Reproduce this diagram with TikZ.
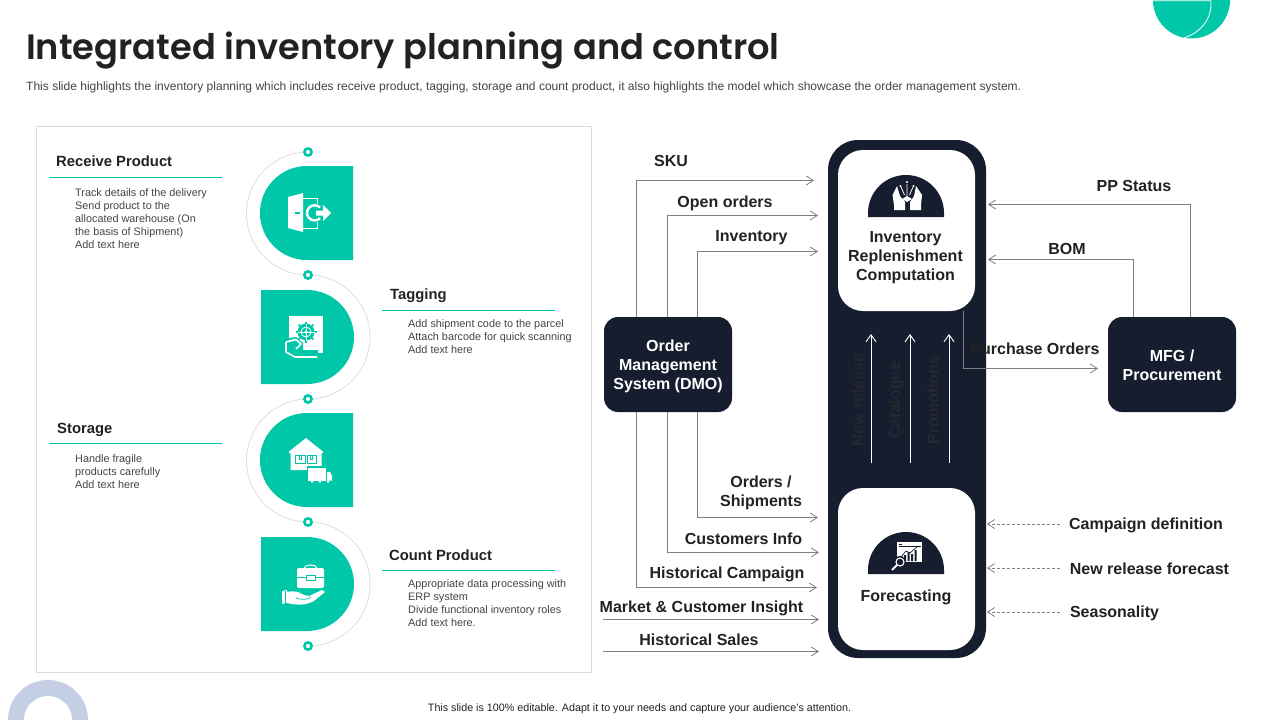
\documentclass[tikz,border=0pt]{standalone}
\usepackage{fontspec}
\setmainfont{Liberation Sans}
\newfontfamily\titlefont{Poppins SemiBold}
\usetikzlibrary{arrows.meta}
\definecolor{teal1}{HTML}{00C7A8}
\definecolor{navy}{HTML}{161D2F}
\definecolor{conn}{HTML}{808080}
\definecolor{lbl}{HTML}{222222}
\definecolor{body}{HTML}{444444}
\definecolor{ringblue}{HTML}{C4CFE3}
\definecolor{faint}{HTML}{262830}
\tikzset{
  lab/.style={font=\fontsize{16}{19}\selectfont\bfseries,text=lbl,align=center,inner sep=0pt},
  boxtext/.style={font=\fontsize{16}{19}\selectfont\bfseries,text=lbl,align=center,inner sep=0pt},
  dark/.style={fill=navy,rounded corners=14pt,inner sep=0pt,minimum width=128pt,minimum height=95pt},
  darktext/.style={text=white,font=\fontsize{16}{19}\selectfont\bfseries,align=center,inner sep=0pt},
  head/.style={font=\fontsize{14.8}{17}\selectfont\bfseries,text=lbl,anchor=west,inner sep=0pt},
  bodytext/.style={font=\fontsize{10.85}{13}\selectfont,text=body,align=left,anchor=north west,inner sep=0pt},
  rot/.style={font=\fontsize{16}{19}\selectfont\bfseries,text=faint,rotate=90,inner sep=0pt},
  arr/.style={draw=conn,line width=0.8pt,-{Straight Barb[length=7pt,width=9pt,line width=0.8pt]}},
  dasharr/.style={arr,densely dashed},
  uparr/.style={draw=white,line width=0.9pt,-{Straight Barb[length=7pt,width=10pt,line width=0.9pt]}},
  guide/.style={draw=black!13,line width=0.8pt},
  ring/.style={draw=teal1,fill=white,line width=2.6pt},
  rule/.style={draw=teal1,line width=1pt},
  rulethick/.style={draw=teal1,line width=1.8pt},
}
\begin{document}
\begin{tikzpicture}[x=1pt,y=-1pt]
\clip (0,0) rectangle (1280,720);
\fill[white] (0,0) rectangle (1280,720);
% decorations
\fill[teal1] (1191.5,0) circle[radius=38.5pt];
\draw[white,line width=0.8pt] (1153,0.8) -- (1211,0.8) .. controls (1212,18) and (1202,32) .. (1184,38);
\fill[ringblue] (48,720) circle[radius=40pt];
\fill[white] (48,720) circle[radius=24pt];
% title
\node[anchor=west,inner sep=0pt,font=\titlefont\fontsize{35.23}{40}\selectfont,text=lbl] (title) at (26,50.5) {Integrated inventory planning and control};
\node[anchor=west,inner sep=0pt,font=\fontsize{12.03}{14}\selectfont,text=body] (subtitle) at (26,87) {This slide highlights the inventory planning which includes receive product, tagging, storage and count product, it also highlights the model which showcase the order management system.};
\node[inner sep=0pt,font=\fontsize{10.73}{13}\selectfont,text=lbl] (footer) at (639.5,709) {This slide is 100\% editable. Adapt it to your needs and capture your audience's attention.};
% left panel
\draw[draw=black!14,line width=0.8pt] (36.5,126.5) rectangle (591.5,672.5);
% guide arcs
\draw[guide] (308,152) arc[start angle=90,end angle=270,radius=61.5pt];
\draw[guide] (308,275) arc[start angle=90,end angle=-90,radius=62pt];
\draw[guide] (308,399) arc[start angle=90,end angle=270,radius=61.5pt];
\draw[guide] (308,522) arc[start angle=90,end angle=-90,radius=62pt];
% D shapes
\fill[teal1] (353,166) [rounded corners=47pt] -- (260,166) -- (260,260) [sharp corners] -- (353,260) -- cycle;
\fill[teal1] (261,290) [rounded corners=47pt] -- (354,290) -- (354,384) [sharp corners] -- (261,384) -- cycle;
\fill[teal1] (353,413) [rounded corners=47pt] -- (260,413) -- (260,507) [sharp corners] -- (353,507) -- cycle;
\fill[teal1] (261,537) [rounded corners=47pt] -- (354,537) -- (354,631) [sharp corners] -- (261,631) -- cycle;
% rings
\foreach \y in {152,275,399,522,646} \draw[ring] (308,\y) circle[radius=3.6pt];
% icon 1: door and gear arrow
\fill[white] (288,197) -- (303,193) -- (303,232) -- (288,228) -- cycle;
\fill[teal1] (294.5,212) rectangle (300,214);
\draw[white,line width=0.9pt] (303,198) -- (317,198) -- (317,205);
\draw[white,line width=0.9pt] (303,228) -- (317,228) -- (317,221);
\fill[teal1] (314,213) circle[radius=10pt];
\draw[white,line width=2.4pt] (320,207.5) arc[start angle=45,end angle=315,radius=7.6pt];
\fill[white] (316,210.5) -- (323,210.5) -- (323,205) -- (331,213) -- (323,221) -- (323,215.5) -- (316,215.5) -- cycle;
% icon 2: parcel, gear, hand
\fill[white] (289,316) rectangle (323,353);
\fill[teal1] (306,332) circle[radius=8.5pt];
\foreach \a in {0,45,...,315} \draw[teal1,line width=1.6pt] (306,332) -- ++(\a:10.5pt);
\draw[white,line width=0.8pt] (306,332) circle[radius=5pt];
\fill[white] (306,332) circle[radius=1.6pt];
\draw[white,line width=0.8pt] (306,323.5) -- (306,340.5) (297.5,332) -- (314.5,332);
\fill[teal1] (283,339) -- (296,337) -- (303,343) -- (303,350) -- (318,350) -- (318,360) -- (283,360) -- cycle;
\draw[white,line width=1.6pt,line join=round] (286,342) -- (296,339.5) -- (301,344) -- (296,349) (286,342) -- (286,352) -- (295,357) -- (317,357);
% icon 3: warehouse and truck
\fill[white] (306,438) -- (323.5,452) -- (321.5,453.5) -- (321.5,470) -- (290.5,470) -- (290.5,453.5) -- (288.5,452) -- cycle;
\draw[teal1,line width=0.8pt] (295,455) rectangle (305,463) (307,455) rectangle (316,463) (299,455) -- (299,459) -- (301,459) -- (301,455) (310.5,455) -- (310.5,459) -- (312.5,459) -- (312.5,455);
\fill[teal1] (306.5,466) rectangle (333,483);
\fill[white] (308,468) rectangle (326,480.5);
\fill[white] (327,472) -- (330,472) -- (332,476) -- (332,480.5) -- (327,480.5) -- cycle;
\fill[white] (312,481.5) circle[radius=1.4pt] (328,481.5) circle[radius=1.4pt] (320,481.5) circle[radius=1.4pt];
% icon 4: briefcase and hand
\draw[white,line width=1.1pt] (304,568) .. controls (305,564) and (316,564) .. (317,568);
\fill[white,rounded corners=2pt] (297,568) rectangle (324,588);
\draw[teal1,line width=0.8pt] (297,577) -- (306,577) (315,577) -- (324,577);
\draw[teal1,line width=0.8pt] (306,575) rectangle (315,580);
\fill[white] (282,591) -- (287,590) -- (287,592) .. controls (297,590) and (300,593) .. (304,595) -- (309,596) -- (322,590) -- (325,592) -- (314,601) .. controls (304,606) and (297,605) .. (287,603) -- (282,604) -- cycle;
\draw[teal1,line width=0.7pt] (285.5,591) -- (285.5,604);
\draw[teal1,line width=0.7pt] (296,598) .. controls (302,600) and (306,600) .. (311,597);
% section headings
\node[head] (h1) at (56,161.5) {Receive Product};
\node[head] (h2) at (390,296) {Tagging};
\node[head] (h3) at (57,430) {Storage};
\node[head] (h4) at (389,555) {Count Product};
\draw[rule] (49,177.5) -- (222,177.5); \draw[rulethick] (49,177.5) -- (110,177.5);
\draw[rule] (382,310.5) -- (555,310.5); \draw[rulethick] (382,310.5) -- (443,310.5);
\draw[rule] (49,443.5) -- (222,443.5); \draw[rulethick] (49,443.5) -- (110,443.5);
\draw[rule] (382,570.5) -- (555,570.5); \draw[rulethick] (382,570.5) -- (443,570.5);
\node[bodytext] (b1) at (75,188.7) {Track details of the delivery\\Send product to the\\allocated warehouse (On\\the basis of Shipment)\\Add text here};
\node[bodytext] (b2) at (408,319.7) {Add shipment  code to the parcel\\Attach barcode for quick scanning\\Add text here};
\node[bodytext] (b3) at (75,454.7) {Handle  fragile\\products carefully\\Add text here};
\node[bodytext] (b4) at (408,579.7) {Appropriate data processing with\\ERP  system\\Divide  functional inventory roles\\Add text here.};
% central column
\fill[navy,rounded corners=30pt] (828,140) rectangle (986,658);
\node[fill=white,rounded corners=25pt,minimum width=137pt,minimum height=161pt,inner sep=0pt] (inv) at (906.5,230.5) {};
\node[fill=white,rounded corners=25pt,minimum width=137pt,minimum height=162pt,inner sep=0pt] (fore) at (906.5,569) {};
\node[boxtext] (invt) at (905.5,258) {Inventory\\Replenishment\\Computation};
\node[boxtext] (foret) at (906,597.5) {Forecasting};
% domes
\fill[navy] (868,217) -- (868,213) arc[start angle=180,end angle=0,radius=38pt] -- (944,217) -- cycle;
\fill[navy] (868,574) -- (868,570) arc[start angle=180,end angle=0,radius=38pt] -- (944,574) -- cycle;
% dome icon: hands
\fill[white] (897,186) -- (900,196) -- (905,202) -- (905,210) -- (894,210) -- (894,205) -- (892.5,195) -- cycle;
\fill[white] (916,186) -- (914,196) -- (910,202) -- (910,210) -- (921,210) -- (921,205) -- (922,195) -- cycle;
\fill[white] (907,196) -- (912,199) -- (907,202) -- (902,199) -- cycle;
\draw[white,line width=0.8pt] (907,196) -- (907,184) (904.5,195) -- (901,187) (909.5,195) -- (913,187);
\fill[white] (907,182) circle[radius=1.2pt] (900.5,186) circle[radius=1.2pt] (913.5,186) circle[radius=1.2pt];
% dome icon: chart
\fill[white] (897,542) rectangle (922,562);
\draw[navy,line width=0.6pt] (898.5,546) -- (920.5,546) (899,544.2) -- (902,544.2);
\fill[navy] (904,555) rectangle (906,561) (907.5,552) rectangle (909.5,561) (911,554) rectangle (913,561) (914.5,550) rectangle (916.5,561);
\draw[navy,line width=0.7pt] (901,557) -- (906,551) -- (910,553) -- (918,546);
\fill[navy] (900,562) circle[radius=6pt];
\draw[white,line width=1.1pt] (900,562) circle[radius=4pt];
\draw[white,line width=1.8pt] (897,565) -- (892,570);
% up arrows
\coordinate (u1s) at (871,463); \coordinate (u1e) at (871,334);
\coordinate (u2s) at (910,463); \coordinate (u2e) at (910,334);
\coordinate (u3s) at (949,463); \coordinate (u3e) at (949,334);
\draw[uparr] (u1s) -- (u1e);
\draw[uparr] (u2s) -- (u2e);
\draw[uparr] (u3s) -- (u3e);
\node[rot] (r1) at (858,400) {New release};
\node[rot] (r2) at (896,400) {Catalogue};
\node[rot] (r3) at (933,400) {Promotions};
% side boxes
\node[dark] (oms) at (668,364.5) {};
\node[dark] (mfg) at (1172,364.5) {};
\node[darktext] (omst) at (668,366.5) {Order\\Management\\System (DMO)};
\node[darktext] (mfgt) at (1172,365) {MFG /\\Procurement};
% connector ends
\coordinate (a1) at (636.5,317); \coordinate (e1) at (814,180.5);
\coordinate (a2) at (667.5,317); \coordinate (e2) at (818,215.5);
\coordinate (a3) at (697.5,317); \coordinate (e3) at (818,251.5);
\coordinate (a4) at (697.5,412); \coordinate (e4) at (818,517.5);
\coordinate (a5) at (667.5,412); \coordinate (e5) at (819,552.5);
\coordinate (a6) at (636.5,412); \coordinate (e6) at (817,587.5);
\coordinate (s7) at (603,619.5); \coordinate (e7) at (819,619.5);
\coordinate (s8) at (603,651.5); \coordinate (e8) at (819,651.5);
\coordinate (m1) at (1190.5,317); \coordinate (p1) at (988,204.5);
\coordinate (m2) at (1133.5,317); \coordinate (p2) at (988,259.5);
\coordinate (i1) at (963.5,311); \coordinate (p3) at (1098,368.5);
\coordinate (d1) at (1060,524); \coordinate (q1) at (987,524);
\coordinate (d2) at (1060,568); \coordinate (q2) at (987,568);
\coordinate (d3) at (1060,612); \coordinate (q3) at (987,612);
\draw[arr] (a1) |- (e1);
\draw[arr] (a2) |- (e2);
\draw[arr] (a3) |- (e3);
\draw[arr] (a4) |- (e4);
\draw[arr] (a5) |- (e5);
\draw[arr] (a6) |- (e6);
\draw[arr] (s7) -- (e7);
\draw[arr] (s8) -- (e8);
\draw[arr] (m1) |- (p1);
\draw[arr] (m2) |- (p2);
\draw[arr] (i1) |- (p3);
\draw[dasharr] (d1) -- (q1);
\draw[dasharr] (d2) -- (q2);
\draw[dasharr] (d3) -- (q3);
% labels
\node[lab] (l1) at (671,161) {SKU};
\node[lab] (l2) at (725,203) {Open orders};
\node[lab] (l3) at (751.5,238) {Inventory};
\node[lab] (l4) at (761,493) {Orders /\\Shipments};
\node[lab] (l5) at (743.5,538.5) {Customers Info};
\node[lab] (l6) at (727,574.5) {Historical Campaign};
\node[lab] (l7) at (701.5,608.5) {Market \& Customer Insight};
\node[lab] (l8) at (699,640) {Historical Sales};
\node[lab] (l9) at (1134,186) {PP Status};
\node[lab] (l10) at (1067,249) {BOM};
\node[lab] (l11) at (1035,349) {Purchase Orders};
\node[lab] (l12) at (1146,525.5) {Campaign definition};
\node[lab] (l13) at (1149.5,568.5) {New release forecast};
\node[lab] (l14) at (1114.5,613.5) {Seasonality};
\end{tikzpicture}
\end{document}
